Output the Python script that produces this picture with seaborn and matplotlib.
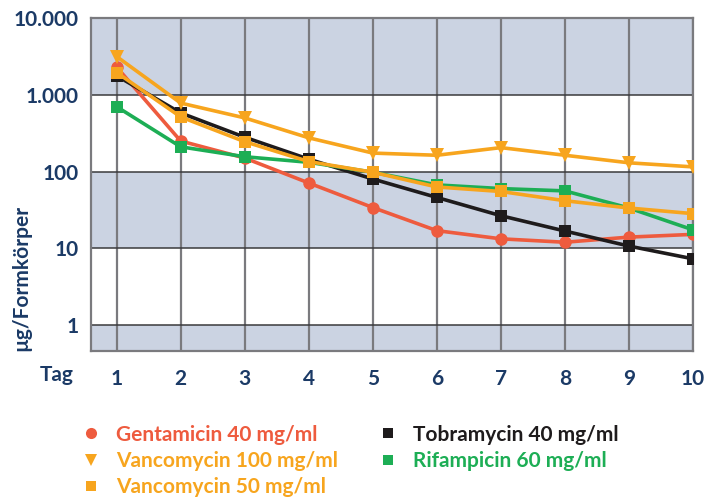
import seaborn as sns
import matplotlib.pyplot as plt
import pandas as pd
from matplotlib.lines import Line2D
from matplotlib.ticker import FixedLocator, NullLocator

# Freisetzung pro Formkörper (log-Skala)
tage = [1, 2, 3, 4, 5, 6, 7, 8, 9, 10]
gentamicin_40 = [2300, 250, 150, 71, 34, 17, 13.3, 12, 14, 15.2]
tobramycin_40 = [1770, 580, 280, 145, 80, 46, 26.6, 16.8, 10.7, 7.3]
rifampicin_60 = [700, 210, 156, 132, 98, 67, 60, 56, 33.5, 17.4]
vancomycin_100 = [3150, 780, 500, 275, 174, 163, 205, 163, 130, 115]
vancomycin_50 = [1950, 515, 245, 135, 98, 63, 55, 41.7, 33.5, 28.3]

namen = ['Gentamicin 40 mg/ml', 'Tobramycin 40 mg/ml', 'Rifampicin 60 mg/ml',
         'Vancomycin 100 mg/ml', 'Vancomycin 50 mg/ml']
werte = [gentamicin_40, tobramycin_40, rifampicin_60, vancomycin_100, vancomycin_50]
farben = ['#EE5B3E', '#1E1B1C', '#1DAE55', '#F7A51E', '#F7A51E']
marker = ['o', 's', 's', 'v', 's']
msize = [9, 8.5, 8.5, 10, 8.5]

df = pd.concat([pd.DataFrame({'Tag': tage, 'Wert': w, 'Serie': n})
                for n, w in zip(namen, werte)])

navy = '#1B3A66'
sns.set_style('white')
plt.rcParams['font.family'] = ['Lato', 'DejaVu Sans']
plt.rcParams['font.weight'] = 'bold'

fig = plt.figure(figsize=(7.06, 5.01), dpi=100)
ax = fig.add_axes([91 / 706, 1 - 351 / 501, 602 / 706, 333 / 501])

# graue Bänder
band = '#CBD3E2'
for lo, hi in [(1000, 10000), (10, 100), (0.1, 1)]:
    ax.axhspan(lo, hi, color=band, zorder=0, lw=0)

for n, f, m, s in zip(namen, farben, marker, msize):
    sns.lineplot(data=df[df['Serie'] == n], x='Tag', y='Wert', ax=ax, color=f,
                 marker=m, markersize=s, markeredgewidth=0, linewidth=2.6,
                 zorder=3, legend=False)

ax.set_yscale('log')
ax.set_ylim(0.46, 10000)
ax.set_xlim(0.6, 10)

ax.yaxis.set_major_locator(FixedLocator([1, 10, 100, 1000, 10000]))
ax.yaxis.set_minor_locator(NullLocator())
ax.set_yticklabels(['1', '10', '100', '1.000', '10.000'])
ax.set_xticks(tage)
ax.set_xticklabels([str(t) for t in tage])
ax.tick_params(axis='both', length=0, labelsize=15, labelcolor=navy)
ax.tick_params(axis='y', pad=9)
ax.tick_params(axis='x', pad=13)
for lab in ax.get_xticklabels() + ax.get_yticklabels():
    lab.set_fontweight('bold')

for t in tage:
    ax.axvline(t, color='#7A7A7E', lw=1.6, zorder=1)
for v in [1, 10, 100, 1000]:
    ax.axhline(v, color='#3A3A3C', lw=1.1, zorder=1)
for sp in ax.spines.values():
    sp.set_color('#7A7A7E')
    sp.set_linewidth(1.6)

ax.set_xlabel('')
ax.set_ylabel('µg/Formkörper', color=navy, fontsize=15, fontweight='bold')
ax.yaxis.set_label_coords(-0.10, 0.22)
fig.text(57 / 706, 1 - 375 / 501, 'Tag', color=navy, fontsize=15,
         fontweight='bold', ha='center', va='center')

leg_order = [0, 3, 4, 1, 2]
leg_marker = ['o', 'v', 's', 's', 's']
leg_size = [8, 9, 7, 7, 7]
handles = [Line2D([], [], linestyle='none', marker=m, color=farben[i], markersize=s,
                  markeredgewidth=0)
           for i, m, s in zip(leg_order, leg_marker, leg_size)]
labels = [namen[i] for i in leg_order]
leg = fig.legend(handles, labels, ncol=2, loc='upper left',
                 bbox_to_anchor=(62 / 706, 1 - 406 / 501), frameon=False,
                 fontsize=15, labelcolor=[farben[i] for i in leg_order],
                 handlelength=1.0, handletextpad=0.7, columnspacing=1.9,
                 labelspacing=0.3)
for t in leg.get_texts():
    t.set_fontweight('bold')

fig.savefig('out.png', dpi=100)
